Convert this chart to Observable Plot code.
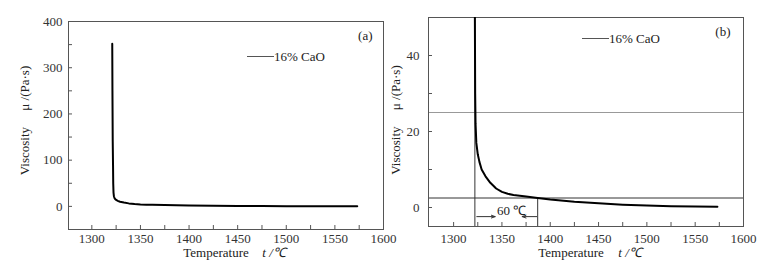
<!DOCTYPE html>
<html><head><meta charset="utf-8">
<script src="https://cdn.jsdelivr.net/npm/d3@7"></script>
<script src="https://cdn.jsdelivr.net/npm/@observablehq/plot@0.6"></script>
<style>
body{margin:0;background:#fff;}
#wrap{position:relative;width:770px;height:267px;font-family:"Liberation Serif","Times New Roman",Times,serif;overflow:hidden;}
#wrap svg{position:absolute;top:0;font-family:"Liberation Serif","Times New Roman",Times,serif !important;}
#wrap svg text{white-space:pre;font-family:"Liberation Serif","Times New Roman",Times,serif !important;}
.leg{position:absolute;font-size:13px;color:#222;display:flex;align-items:center;line-height:1;}
.leg .ln{display:inline-block;height:1px;background:#555;width:27px;}
</style></head><body><div id="wrap"></div>
<script>
// measured curve: temperature (°C) vs viscosity (Pa·s), 16% CaO
const temperature = [1321.0, 1321.2, 1321.5, 1321.8, 1322.0, 1322.3, 1322.7, 1323.5, 1325, 1326.7, 1329, 1333, 1338, 1344, 1350, 1356, 1362, 1375, 1387, 1400, 1425, 1450, 1475, 1500, 1525, 1550, 1573];
const viscosity   = [352,    250,    140,    90,     50,     30,     22,     17,     14,   12,     10,   8.2,  6.5,  5,    4.1,  3.6,  3.3,  2.9,  2.5,  2.1,  1.5,  1.1,  0.75, 0.5,  0.35, 0.25, 0.2];
const seriesLabel = "16% CaO";

// axis ticks
const xTickLabels = [1300, 1350, 1400, 1450, 1500, 1550, 1600];
const xTicksAll = [1300, 1325, 1350, 1375, 1400, 1425, 1450, 1475, 1500, 1525, 1550, 1575, 1600];
const yTickLabelsA = [0, 100, 200, 300, 400];
const yTicksAllA = [0, 50, 100, 150, 200, 250, 300, 350, 400];
const yTickLabelsB = [0, 20, 40];
const yTicksAllB = [0, 10, 20, 30, 40];

// panel (b) annotations
const refLevelsY = [25, 2.5];          // horizontal reference lines
const softeningT = 1322;              // vertical line at onset
const criticalT = 1387;               // vertical line at 2.5 Pa·s crossing
const spanLabel = "60 ℃";
const arrowsB = [
  {x1: 1324, x2: 1343, y: -2.4},
  {x1: 1386, x2: 1371, y: -2.4}
];
const spanLabelPos = {x: 1360, y: -0.9};

const data = temperature.map((t, i) => ({t, v: viscosity[i]}));
const fmt = d => String(d);
const W = 385, H = 267;
const font = {fontFamily: "'Liberation Serif', 'Times New Roman', serif", fontSize: "13px", color: "#222", background: "transparent", overflow: "visible"};

const plotA = Plot.plot({
  width: W, height: H,
  marginLeft: 68, marginRight: 2, marginTop: 21, marginBottom: 38,
  style: font,
  x: {domain: [1276, 1600]},
  y: {domain: [-50, 400]},
  marks: [
    Plot.frame({stroke: "#555"}),
    Plot.axisX(xTicksAll, {tickSize: -4, tickFormat: () => "", stroke: "#555", label: null}),
    Plot.axisX(xTickLabels, {tickSize: 0, tickPadding: 4, tickFormat: fmt, fill: "#333", label: null}),
    Plot.axisY(yTicksAllA, {tickSize: -4, tickFormat: () => "", stroke: "#555", label: null}),
    Plot.axisY(yTickLabelsA, {tickSize: 0, tickPadding: 6, tickFormat: fmt, fill: "#333", label: null}),
    Plot.line(data, {x: "t", y: "v", stroke: "#000", strokeWidth: 2, clip: true}),
    Plot.text(["Viscosity     μ /(Pa·s)"], {frameAnchor: "left", dx: -44, dy: -5, rotate: -90, fill: "#222", lineAnchor: "middle", textAnchor: "middle"}),
    Plot.text(["Temperature"], {frameAnchor: "bottom", dx: -10, dy: 23, fill: "#222", lineAnchor: "middle"}),
    Plot.text(["t /℃"], {frameAnchor: "bottom", dx: 48, dy: 23, fill: "#222", fontStyle: "italic", lineAnchor: "middle"}),
    Plot.text(["(a)"], {frameAnchor: "top-right", dx: -11, dy: 14, fill: "#222", lineAnchor: "middle", textAnchor: "end"})
  ]
});

const plotB = Plot.plot({
  width: W, height: H,
  marginLeft: 43, marginRight: 27, marginTop: 17, marginBottom: 41,
  style: font,
  x: {domain: [1274, 1600]},
  y: {domain: [-5, 50]},
  marks: [
    Plot.ruleY([refLevelsY[0]], {stroke: "#999"}),
    Plot.ruleY([refLevelsY[1]], {stroke: "#333"}),
    Plot.ruleX([softeningT], {stroke: "#333"}),
    Plot.ruleX([criticalT], {y1: -5, y2: refLevelsY[1], stroke: "#333"}),
    Plot.frame({stroke: "#555"}),
    Plot.axisX(xTicksAll, {tickSize: -4, tickFormat: () => "", stroke: "#555", label: null}),
    Plot.axisX(xTickLabels, {tickSize: 0, tickPadding: 7, tickFormat: fmt, fill: "#333", label: null}),
    Plot.axisY(yTicksAllB, {tickSize: -4, tickFormat: () => "", stroke: "#555", label: null}),
    Plot.axisY(yTickLabelsB, {tickSize: 0, tickPadding: 9, tickFormat: fmt, fill: "#333", label: null}),
    Plot.line(data, {x: "t", y: "v", stroke: "#000", strokeWidth: 2, clip: true}),
    Plot.arrow(arrowsB, {x1: "x1", x2: "x2", y1: "y", y2: "y", stroke: "#333", strokeWidth: 1, headLength: 6, headAngle: 40}),
    Plot.text([spanLabel], {x: () => spanLabelPos.x, y: () => spanLabelPos.y, fill: "#222"}),
    Plot.text(["Viscosity     μ /(Pa·s)"], {frameAnchor: "left", dx: -33, dy: -2, rotate: -90, fill: "#222", lineAnchor: "middle", textAnchor: "middle"}),
    Plot.text(["Temperature"], {frameAnchor: "bottom", dx: -15, dy: 26, fill: "#222", lineAnchor: "middle"}),
    Plot.text(["t /℃"], {frameAnchor: "bottom", dx: 44, dy: 26, fill: "#222", fontStyle: "italic", lineAnchor: "middle"}),
    Plot.text(["(b)"], {frameAnchor: "top-right", dx: -13, dy: 14, fill: "#222", lineAnchor: "middle", textAnchor: "end"})
  ]
});

const wrap = document.getElementById("wrap");
plotA.style.left = "0px";
plotB.style.left = W + "px";
wrap.appendChild(plotA);
wrap.appendChild(plotB);

function legend(left, top) {
  const d = document.createElement("div");
  d.className = "leg";
  d.style.left = left + "px";
  d.style.top = top + "px";
  const ln = document.createElement("span");
  ln.className = "ln";
  const tx = document.createElement("span");
  tx.textContent = seriesLabel;
  d.appendChild(ln);
  d.appendChild(tx);
  wrap.appendChild(d);
}
legend(247, 50);
legend(582, 32);
</script></body></html>
